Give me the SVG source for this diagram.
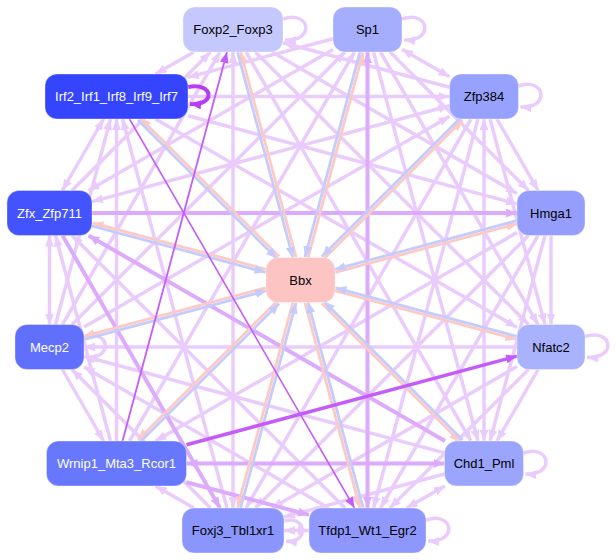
<svg xmlns="http://www.w3.org/2000/svg" width="616" height="560" viewBox="0 0 616 560">
<style>
.e{fill:none;stroke:#eaccfc;stroke-width:3.5;marker-end:url(#av)}
.m{stroke:#dcabfc;stroke-width:4;marker-end:url(#am)}
.e.bi{marker-start:url(#av)}
.m.bi{marker-start:url(#am)}
.pk{fill:none;stroke:#fdc9c4;stroke-width:2.8;marker-end:url(#ap)}
.bl{fill:none;stroke:#c5ccfc;stroke-width:2.8;marker-end:url(#ab)}
.pu{fill:none;stroke:#c45cf9;marker-end:url(#au)}
.n rect{stroke:#ffffff;stroke-opacity:0.35;stroke-width:1}
.n text{font-family:"Liberation Sans",Arial,sans-serif;font-size:13px;text-anchor:middle;fill:#000}
.n text.w{fill:#ffffff}
</style>
<defs>
<marker id="av" markerUnits="userSpaceOnUse" markerWidth="11" markerHeight="9" viewBox="0 0 11 9" refX="11" refY="4.5" orient="auto-start-reverse"><path d="M0,0L11,4.5L0,9z" fill="#eaccfc"/></marker>
<marker id="am" markerUnits="userSpaceOnUse" markerWidth="11" markerHeight="9" viewBox="0 0 11 9" refX="11" refY="4.5" orient="auto-start-reverse"><path d="M0,0L11,4.5L0,9z" fill="#dcabfc"/></marker>
<marker id="ap" markerUnits="userSpaceOnUse" markerWidth="11" markerHeight="9" viewBox="0 0 11 9" refX="11" refY="4.5" orient="auto"><path d="M0,0L11,4.5L0,9z" fill="#fdc9c4"/></marker>
<marker id="ab" markerUnits="userSpaceOnUse" markerWidth="11" markerHeight="9" viewBox="0 0 11 9" refX="11" refY="4.5" orient="auto"><path d="M0,0L11,4.5L0,9z" fill="#c5ccfc"/></marker>
<marker id="au" markerUnits="userSpaceOnUse" markerWidth="11" markerHeight="9" viewBox="0 0 11 9" refX="11" refY="4.5" orient="auto"><path d="M0,0L11,4.5L0,9z" fill="#c45cf9"/></marker>
<marker id="au2" markerUnits="userSpaceOnUse" markerWidth="11" markerHeight="9" viewBox="0 0 11 9" refX="11" refY="4.5" orient="auto"><path d="M0,0L11,4.5L0,9z" fill="#b83cf6"/></marker>
</defs>
<g id="edges">
<path class="e" d="M551,235.5L551,324.5"/>
<path class="e" d="M538.1,369.5L496.9,441"/>
<path class="e bi" d="M444.9,486L406.6,508"/>
<path class="e bi" d="M284,530.5L309,530.5"/>
<path class="e" d="M193.9,508L155.6,486"/>
<path class="e" d="M62.4,369.5L103.6,441"/>
<path class="e bi" d="M49.5,235.5L49.5,324.5"/>
<path class="e bi" d="M103.6,119L62.4,190.5"/>
<path class="e" d="M193.9,52L155.6,74"/>
<path class="e bi" d="M402,49.3L449.5,76.7"/>
<path class="e" d="M496.9,119L538.1,190.5"/>
<path class="e" d="M545,235.5L490,441"/>
<path class="e" d="M528.5,369.5L390,508"/>
<path class="e" d="M444.5,474L284,516.9"/>
<path class="e" d="M210.5,508L72,369.5"/>
<path class="e" d="M110.5,441L55.5,235.5"/>
<path class="e" d="M55.5,324.5L110.5,119"/>
<path class="e" d="M72,190.5L210.5,52"/>
<path class="e" d="M333,38.7L188,77.4"/>
<path class="e" d="M449.5,87.3L283,42.8"/>
<path class="e" d="M390,52L528.5,190.5"/>
<path class="e" d="M490,119L545,324.5"/>
<path class="e" d="M538,235.5L380.5,508"/>
<path class="e" d="M517,366.6L272,508"/>
<path class="e" d="M328.5,508L84,366.9"/>
<path class="e" d="M116.5,441L116.5,119"/>
<path class="e" d="M62.5,324.5L220,52"/>
<path class="e" d="M333,49.4L88.5,190.5"/>
<path class="e" d="M188,96.5L449.5,96.5"/>
<path class="e" d="M272,52L517,193.4"/>
<path class="e" d="M380.5,52L538,324.5"/>
<path class="e bi" d="M484,119L484,441"/>
<path class="e" d="M528.5,235.5L255.5,508"/>
<path class="e" d="M444.5,452.9L84,356.3"/>
<path class="e" d="M345,508L72,235.5"/>
<path class="e" d="M227,508L122.5,119"/>
<path class="e" d="M72,324.5L345,52"/>
<path class="e bi" d="M92,201.6L449.5,105.8"/>
<path class="e" d="M188,115.7L517,203.9"/>
<path class="e" d="M255.5,52L528.5,324.5"/>
<path class="e" d="M373.5,52L478,441"/>
<path class="e" d="M478,119L373.5,508"/>
<path class="e" d="M517,232.6L155.5,441"/>
<path class="e" d="M517,347L84,347"/>
<path class="e bi" d="M233,508L233,52"/>
<path class="e" d="M129.5,441L354.5,52"/>
<path class="e" d="M84,327.1L449.5,116.4"/>
<path class="e" d="M155.5,119L517,327.4"/>
<path class="e" d="M246,52L471,441"/>
<path class="e" d="M471,119L246,508"/>
<path class="e m" d="M186.5,482.2L309,514.9"/>
<path class="e m bi" d="M444.5,463.5L186.5,463.5"/>
<path class="e m" d="M62.5,235.5L220,508"/>
<path class="e m" d="M445,441L88.5,235.5"/>
<path class="e m" d="M92,213L517,213"/>
<path class="e m bi" d="M367.5,52L367.5,508"/>
<path class="e" d="M283,19C311,10 315,42 285,40"/>
<path class="e" d="M402,19C430,10 434,42 404,40"/>
<path class="e" d="M518.5,86C546,77 550,109 520.5,107"/>
<path class="e" d="M585,336.5C613,328 617,359 587,357.5"/>
<path class="e" d="M523.5,453C551,444 555,476 525.5,474"/>
<path class="e" d="M426,520C454,511 458,543 428,541"/>
<path class="e" d="M284,521C306,514 310,544 286,541"/>
<path class="e" d="M84,336.5C110,329 114,359 86,357.5"/>
<path class="pk" d="M335.4,272.3L517.4,223.6"/>
<path class="bl" d="M516.6,220.7L334.6,269.4"/>
<path class="pk" d="M334.6,290.7L516.6,339.4"/>
<path class="bl" d="M517.4,336.5L335.4,287.8"/>
<path class="pk" d="M321.9,303.6L460.4,442.1"/>
<path class="bl" d="M462.6,439.9L324.1,301.4"/>
<path class="pk" d="M305,302.9L360,508.4"/>
<path class="bl" d="M363,507.6L308,302.1"/>
<path class="pk" d="M293,302.1L237.5,507.6"/>
<path class="bl" d="M240.5,508.4L296,302.9"/>
<path class="pk" d="M276.9,301.4L137.9,439.9"/>
<path class="bl" d="M140.1,442.1L279.1,303.6"/>
<path class="pk" d="M265.6,287.8L83.6,336.4"/>
<path class="bl" d="M84.4,339.3L266.4,290.7"/>
<path class="pk" d="M266.4,269.4L92.4,222.9"/>
<path class="bl" d="M91.6,225.8L265.6,272.3"/>
<path class="pk" d="M279.1,256.4L140.1,117.9"/>
<path class="bl" d="M137.9,120.1L276.9,258.6"/>
<path class="pk" d="M296,257.1L240.5,51.6"/>
<path class="bl" d="M237.5,52.4L293,257.9"/>
<path class="pk" d="M308,257.9L363,52.4"/>
<path class="bl" d="M360,51.6L305,257.1"/>
<path class="pk" d="M324.1,258.6L462.6,120.1"/>
<path class="bl" d="M460.4,117.9L321.9,256.4"/>
<path class="pu" stroke-width="3.5" d="M186.5,444.7L517,356.1"/>
<path class="pu" stroke-width="1.8" stroke="#bb46f6" d="M122.5,441L227,52"/>
<path class="pu" stroke-width="1.6" stroke="#b444ee" d="M129.5,119L354.5,508"/>
<path fill="none" stroke="#b83cf6" stroke-width="4" marker-end="url(#au2)" d="M188,87C214,82 216,106 190,104"/>
</g>
<g id="node-foxp2_foxp3" class="n"><rect x="183" y="7" width="100" height="45" rx="12" fill="#c5c8fd"/><text x="233" y="34">Foxp2_Foxp3</text></g>
<g id="node-sp1" class="n"><rect x="333" y="7" width="69" height="45" rx="12" fill="#a4aefd"/><text x="367.5" y="34">Sp1</text></g>
<g id="node-irf2" class="n"><rect x="45" y="74" width="143" height="45" rx="12" fill="#3545fd"/><text class="w" x="116.5" y="101">Irf2_Irf1_Irf8_Irf9_Irf7</text></g>
<g id="node-zfp384" class="n"><rect x="449.5" y="74" width="69" height="45" rx="12" fill="#96a2fd"/><text x="484" y="101">Zfp384</text></g>
<g id="node-zfx_zfp711" class="n"><rect x="7" y="190.5" width="85" height="45" rx="12" fill="#4353fd"/><text class="w" x="49.5" y="217.5">Zfx_Zfp711</text></g>
<g id="node-hmga1" class="n"><rect x="517" y="190.5" width="68" height="45" rx="12" fill="#959efd"/><text x="551" y="217.5">Hmga1</text></g>
<g id="node-bbx" class="n"><rect x="266" y="257.5" width="69" height="45" rx="12" fill="#fdc4c4"/><text x="300.5" y="284.5">Bbx</text></g>
<g id="node-mecp2" class="n"><rect x="15" y="324.5" width="69" height="45" rx="12" fill="#6070fd"/><text class="w" x="49.5" y="351.5">Mecp2</text></g>
<g id="node-nfatc2" class="n"><rect x="517" y="324.5" width="68" height="45" rx="12" fill="#a9b2fd"/><text x="551" y="351.5">Nfatc2</text></g>
<g id="node-wrnip1" class="n"><rect x="46.5" y="441" width="140" height="45" rx="12" fill="#6878fd"/><text class="w" x="116.5" y="468">Wrnip1_Mta3_Rcor1</text></g>
<g id="node-chd1_pml" class="n"><rect x="444.5" y="441" width="79" height="45" rx="12" fill="#9ba5fd"/><text x="484" y="468">Chd1_Pml</text></g>
<g id="node-foxj3" class="n"><rect x="182" y="508" width="102" height="45" rx="12" fill="#8a96fd"/><text x="233" y="535">Foxj3_Tbl1xr1</text></g>
<g id="node-tfdp1" class="n"><rect x="309" y="508" width="117" height="45" rx="12" fill="#8e97fd"/><text x="367.5" y="535">Tfdp1_Wt1_Egr2</text></g>
</svg>
